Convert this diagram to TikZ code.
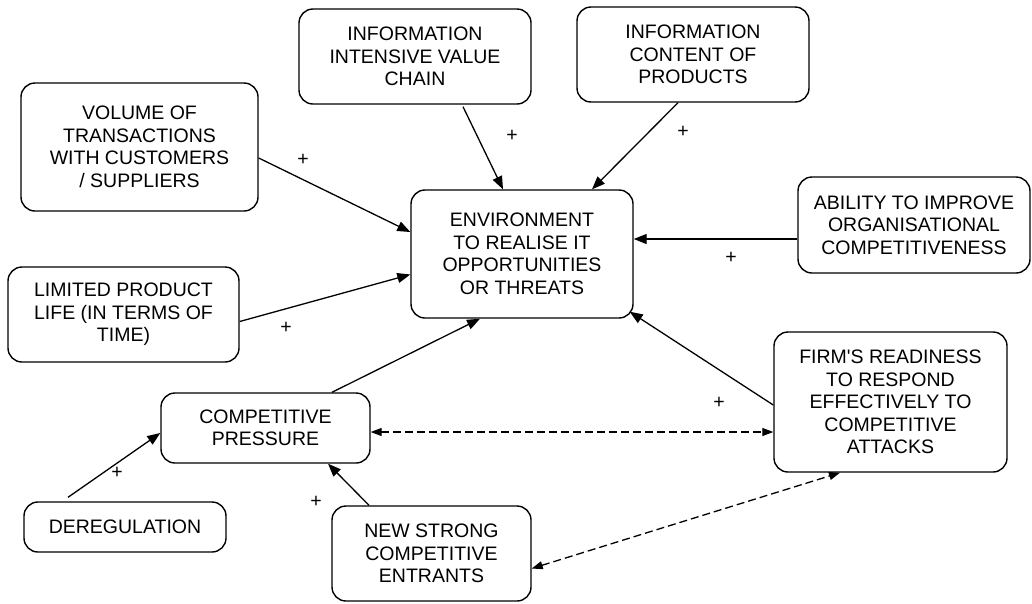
\documentclass[tikz,border=0pt]{standalone}
\usepackage{fontspec}
\setmainfont{Liberation Sans}
\usetikzlibrary{arrows.meta}
\tikzset{
  box/.style={draw=black, line width=1.4pt, rounded corners=14pt, align=center,
    inner sep=0pt, font=\fontsize{19.5pt}{22.5pt}\selectfont},
  link/.style={line width=1.3pt, -{Triangle[length=13pt,width=10pt]}},
  dlink/.style={line width=1.3pt, dash pattern=on 8pt off 4pt,
    {Triangle[length=11pt,width=8pt]}-{Triangle[length=11pt,width=8pt]}},
  plus/.style={inner sep=0pt, font=\fontsize{19.5pt}{22.5pt}\selectfont}
}
\begin{document}
\begin{tikzpicture}[x=1pt,y=-1pt]
\useasboundingbox[fill=white] (0,0) rectangle (1032,603);
\node[box, minimum width=237pt, minimum height=128pt] (vol) at (139.5,147) {VOLUME OF\\TRANSACTIONS\\WITH CUSTOMERS\\/ SUPPLIERS};
\node[box, minimum width=231pt, minimum height=95pt] (lim) at (123.5,314.5) {LIMITED PRODUCT\\LIFE (IN TERMS OF\\TIME)};
\node[box, minimum width=232pt, minimum height=95pt] (ivc) at (415,56.5) {INFORMATION\\INTENSIVE VALUE\\CHAIN};
\node[box, minimum width=232pt, minimum height=95pt] (ico) at (693,54.5) {INFORMATION\\CONTENT OF\\PRODUCTS};
\node[box, minimum width=222pt, minimum height=128pt] (env) at (522,254) {ENVIRONMENT\\TO REALISE IT\\OPPORTUNITIES\\OR THREATS};
\node[box, minimum width=232pt, minimum height=96pt] (abi) at (914,225) {ABILITY TO IMPROVE\\ORGANISATIONAL\\COMPETITIVENESS};
\node[box, minimum width=233pt, minimum height=140pt] (firm) at (890.5,402) {FIRM\textquotesingle S READINESS\\TO RESPOND\\EFFECTIVELY TO\\COMPETITIVE\\ATTACKS};
\node[box, minimum width=209pt, minimum height=70pt] (cp) at (265.5,428) {COMPETITIVE\\PRESSURE};
\node[box, minimum width=202pt, minimum height=50pt] (dereg) at (125,527) {DEREGULATION};
\node[box, minimum width=199pt, minimum height=95pt] (new) at (431.5,553.5) {NEW STRONG\\COMPETITIVE\\ENTRANTS};

\draw[link] ([yshift=-11pt]vol.east) -- ([yshift=22pt]env.west);
\draw[link] ([yshift=-7pt]lim.east) -- ([yshift=-20.5pt]env.west);
\draw[link] ([xshift=48pt,yshift=-2pt]ivc.south) -- ([xshift=-19pt]env.north);
\draw[link] ([xshift=-15pt]ico.south) -- ([xshift=70pt]env.north);
\draw[link] ([yshift=-14pt]abi.west) -- ([yshift=15pt]env.east);
\draw[link] ([xshift=66.5pt]cp.north) -- ([xshift=-42pt]env.south);
\draw[link] ([yshift=-3pt]firm.west) -- ([xshift=-4pt,yshift=7pt]env.south east);
\draw[dlink] ([yshift=-4pt]cp.east) -- ([yshift=-30pt]firm.west);
\draw[dlink] ([yshift=-15pt]new.east) -- ([xshift=-50.5pt]firm.south);
\draw[link] ([xshift=-57pt,yshift=4pt]dereg.north) -- ([yshift=-5pt]cp.west);
\draw[link] ([xshift=-62.5pt]new.north) -- ([xshift=62.5pt]cp.south);

\node[plus] (p1) at (303,160) {+};
\node[plus] (p2) at (286,328) {+};
\node[plus] (p3) at (512,136) {+};
\node[plus] (p4) at (683,132) {+};
\node[plus] (p5) at (731,258) {+};
\node[plus] (p6) at (719,403) {+};
\node[plus] (p7) at (117,473) {+};
\node[plus] (p8) at (316,502) {+};
\end{tikzpicture}
\end{document}
